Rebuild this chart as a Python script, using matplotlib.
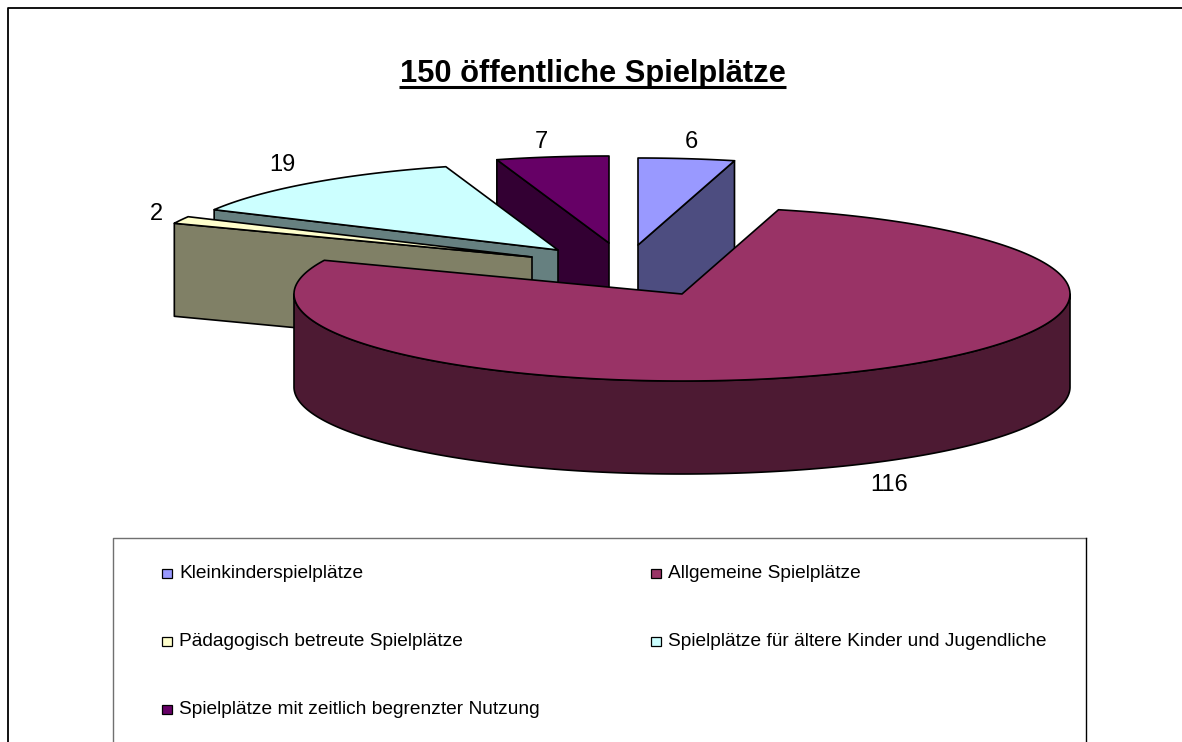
import numpy as np
import matplotlib
matplotlib.use("Agg")
import matplotlib.pyplot as plt
from matplotlib.patches import Polygon, Rectangle

categories = ["Kleinkinderspielplätze", "Allgemeine Spielplätze", "Pädagogisch betreute Spielplätze",
              "Spielplätze für ältere Kinder und Jugendliche", "Spielplätze mit zeitlich begrenzter Nutzung"]
values = [6, 116, 2, 19, 7]
title = "150 öffentliche Spielplätze"

top_colors = ["#9999FF", "#993366", "#FFFFCC", "#CCFFFF", "#660066"]
side_colors = ["#4D4D80", "#4D1A33", "#808066", "#668080", "#330033"]
centers = [(638, 245), (682, 294), (532, 257), (558, 250), (609, 243)]
label_pos = [(691, 142), (889, 485), (156, 214), (282, 165), (541, 142)]
legend_pos = [(162, 573.5), (651, 573.5), (162, 641.5), (651, 641.5), (162, 709)]
draw_order = [4, 0, 3, 2, 1]

RX, RY, DEPTH = 388, 87, 93

plt.rcParams["font.family"] = ["Liberation Sans", "DejaVu Sans"]
fig = plt.figure(figsize=(11.82, 7.42), dpi=100)
ax = fig.add_axes([0, 0, 1, 1])
ax.set_xlim(0, 1182)
ax.set_ylim(742, 0)
ax.axis("off")

frac = np.cumsum([0] + values) / sum(values) * 2 * np.pi


def arc(c, a0, a1):
    t = np.linspace(a0, a1, max(int((a1 - a0) * 90), 3))
    return np.column_stack([c[0] + RX * np.sin(t), c[1] - RY * np.cos(t)])


def poly(pts, fc, z):
    ax.add_patch(Polygon(pts, closed=True, fc=fc, ec="black", lw=1.2, joinstyle="round", zorder=z))


for order, i in enumerate(draw_order):
    a0, a1 = frac[i], frac[i + 1]
    c = np.array(centers[i], float)
    z = 2 + order
    top = arc(c, a0, a1)
    down = np.array([0, DEPTH])
    # only the radial walls that face the viewer are drawn
    if np.sin(a0) < -1e-6:
        poly([c, top[0], top[0] + down, c + down], side_colors[i], z)
    if np.sin(a1) > 1e-6:
        poly([c, top[-1], top[-1] + down, c + down], side_colors[i], z)
    # outer rim, front half only
    lo, hi = max(a0, np.pi / 2), min(a1, 3 * np.pi / 2)
    if hi > lo:
        rim = arc(c, lo, hi)
        poly(np.vstack([rim, (rim + down)[::-1]]), side_colors[i], z)
    poly(np.vstack([[c], top]), top_colors[i], z)
    ax.text(*label_pos[i], str(values[i]), fontsize=17, ha="center", va="center", color="black", zorder=20)

ax.text(592.5, 82, title, fontsize=22.2, fontweight="bold", ha="center", va="baseline", zorder=20)
ax.plot([399, 786], [86.5, 86.5], color="black", lw=2.2, solid_capstyle="butt", zorder=20)

ax.plot([7.5, 7.5, 1182], [742, 7.5, 7.5], color="black", lw=1.3, zorder=1)
ax.plot([112.5, 112.5, 1085.5], [742, 538, 538], color="#707070", lw=1.0, zorder=1)
ax.plot([1085.5, 1085.5], [538, 742], color="black", lw=1.0, zorder=1)

for i, name in enumerate(categories):
    x, y = legend_pos[i]
    ax.add_patch(Rectangle((x, y - 4.5), 10, 9, fc=top_colors[i], ec="black", lw=0.9, zorder=20))
    ax.text(x + 17, y, name, fontsize=13.8, ha="left", va="center", zorder=20)

fig.savefig("out.png", dpi=100)
